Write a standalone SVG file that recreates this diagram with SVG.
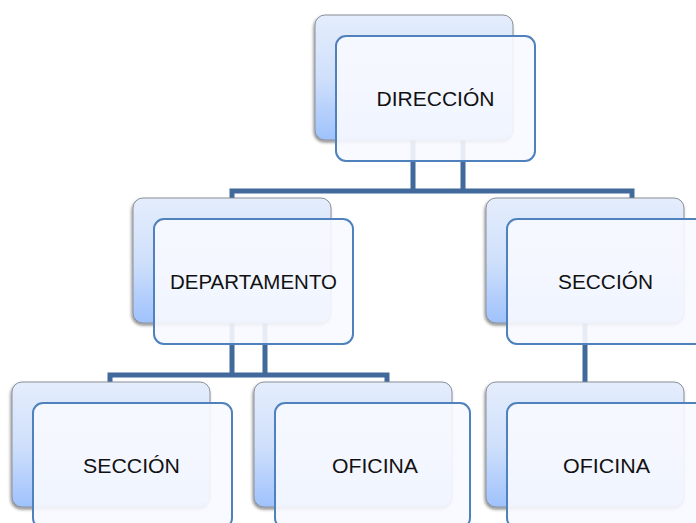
<svg xmlns="http://www.w3.org/2000/svg" width="696" height="523" viewBox="0 0 696 523">
<defs>
<linearGradient id="bg" x1="0" y1="0" x2="0" y2="1">
<stop offset="0" stop-color="#e4edfc"/>
<stop offset="0.5" stop-color="#d0e0fb"/>
<stop offset="1" stop-color="#9fc2fd"/>
</linearGradient>
<filter id="sh" x="-10%" y="-10%" width="125%" height="130%">
<feDropShadow dx="-1" dy="2" stdDeviation="1.8" flood-color="#000" flood-opacity="0.45"/>
</filter>
<style>
.back{fill:url(#bg);stroke:#8a8f98;stroke-width:1;filter:url(#sh)}
.front{fill:#f8faff;fill-opacity:0.9;stroke:#4f81bd;stroke-width:2}
.conn{fill:none;stroke:#41699b;stroke-width:5}
.lbl{font-family:"Liberation Sans",Arial,sans-serif;font-size:20px;fill:#111;text-anchor:middle}
</style>
</defs>
<rect width="696" height="523" fill="#fff"/>
<g id="connectors">
<path class="conn" d="M413,140 V191 M463,140 V191 M232,198 V191 H632 V198"/>
<path class="conn" d="M232,323 V375 M265,323 V375 M110,382 V375 H387 V382"/>
<path class="conn" d="M585,323 V382"/>
</g>
<g id="direccion">
<rect class="back" x="315" y="15" width="198" height="125" rx="10"/>
<rect class="front" x="336" y="36" width="199" height="125" rx="10"/>
<text class="lbl" x="435.5" y="106" textLength="118" lengthAdjust="spacingAndGlyphs">DIRECCIÓN</text>
</g>
<g id="departamento">
<rect class="back" x="133" y="198" width="198" height="125" rx="10"/>
<rect class="front" x="154" y="219" width="199" height="125" rx="10"/>
<text class="lbl" x="253.5" y="289" textLength="167" lengthAdjust="spacingAndGlyphs">DEPARTAMENTO</text>
</g>
<g id="seccion1">
<rect class="back" x="486" y="198" width="198" height="125" rx="10"/>
<rect class="front" x="507" y="219" width="199" height="125" rx="10"/>
<text class="lbl" x="605.5" y="289" textLength="95" lengthAdjust="spacingAndGlyphs">SECCIÓN</text>
</g>
<g id="seccion2">
<rect class="back" x="12" y="382" width="198" height="125" rx="10"/>
<rect class="front" x="33" y="403" width="199" height="125" rx="10"/>
<text class="lbl" x="131.5" y="473" textLength="97" lengthAdjust="spacingAndGlyphs">SECCIÓN</text>
</g>
<g id="oficina1">
<rect class="back" x="254" y="382" width="198" height="125" rx="10"/>
<rect class="front" x="275" y="403" width="195" height="125" rx="10"/>
<text class="lbl" x="375" y="473" textLength="86" lengthAdjust="spacingAndGlyphs">OFICINA</text>
</g>
<g id="oficina2">
<rect class="back" x="486" y="382" width="198" height="125" rx="10"/>
<rect class="front" x="507" y="403" width="199" height="125" rx="10"/>
<text class="lbl" x="606.5" y="473" textLength="87" lengthAdjust="spacingAndGlyphs">OFICINA</text>
</g>
</svg>
